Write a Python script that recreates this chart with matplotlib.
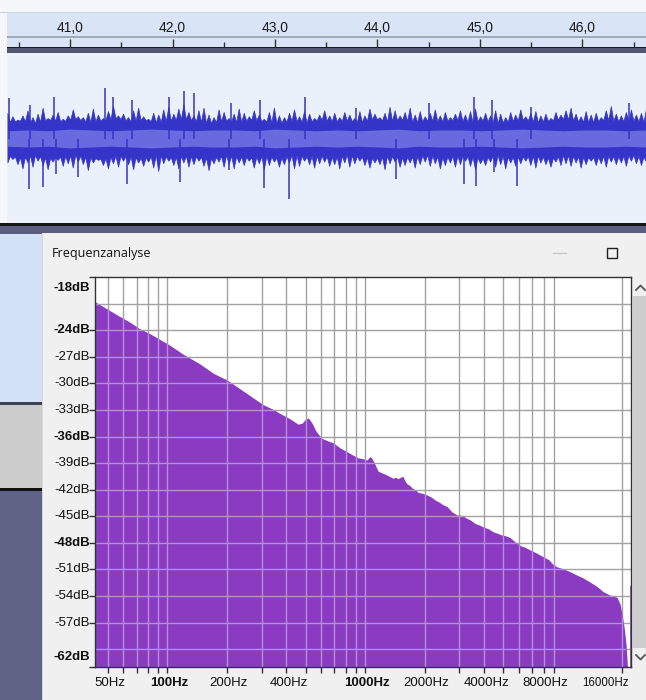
import numpy as np
import matplotlib
matplotlib.use('Agg')
import matplotlib.pyplot as plt
import matplotlib.transforms as mtransforms
from matplotlib.patches import Rectangle

# ---- data ----
# time ruler (seconds)
ruler_major = [41.0, 42.0, 43.0, 44.0, 45.0, 46.0]
ruler_labels = ['41,0', '42,0', '43,0', '44,0', '45,0', '46,0']
ruler_minor = [40.5, 41.5, 42.5, 43.5, 44.5, 45.5, 46.5]

# waveform peaks (normalised amplitude), evenly spread over the visible time span
wave_top = [0.30, 0.26, 0.22, 0.27, 0.33, 0.25, 0.29, 0.36, 0.24, 0.28, 0.31, 0.23, 0.27, 0.34, 0.26, 0.25,
            0.30, 0.35, 0.28, 0.24, 0.32, 0.38, 0.27, 0.29, 0.25, 0.33, 0.36, 0.26, 0.23, 0.30, 0.28, 0.34,
            0.37, 0.29, 0.35, 0.40, 0.31, 0.27, 0.33, 0.36, 0.28, 0.25, 0.34, 0.31, 0.24, 0.29, 0.35, 0.30,
            0.26, 0.33, 0.28, 0.23, 0.31, 0.36, 0.27, 0.25, 0.30, 0.34, 0.26, 0.32, 0.29, 0.24, 0.28, 0.33,
            0.27, 0.30, 0.25, 0.31, 0.28, 0.24, 0.32, 0.27, 0.35, 0.29, 0.25, 0.30, 0.37, 0.33, 0.27, 0.31,
            0.36, 0.28, 0.32, 0.26, 0.30, 0.34, 0.27, 0.31, 0.25, 0.29, 0.33, 0.28, 0.32, 0.35, 0.26, 0.30,
            0.27, 0.33, 0.29, 0.25, 0.31, 0.28, 0.34, 0.26, 0.30, 0.32, 0.27, 0.29, 0.24, 0.31, 0.28, 0.33,
            0.36, 0.29, 0.26, 0.32, 0.28, 0.30, 0.25, 0.33, 0.38, 0.29, 0.27, 0.31, 0.34, 0.28, 0.30, 0.35]
wave_bot = [-0.24, -0.30, -0.35, -0.28, -0.33, -0.26, -0.31, -0.36, -0.27, -0.25, -0.32, -0.29, -0.34, -0.27, -0.30, -0.37,
            -0.28, -0.25, -0.31, -0.35, -0.29, -0.33, -0.26, -0.30, -0.36, -0.28, -0.32, -0.27, -0.34, -0.38, -0.29, -0.26,
            -0.31, -0.35, -0.28, -0.33, -0.30, -0.26, -0.32, -0.37, -0.29, -0.27, -0.33, -0.30, -0.35, -0.28, -0.31, -0.26,
            -0.34, -0.29, -0.36, -0.31, -0.27, -0.33, -0.30, -0.28, -0.35, -0.32, -0.26, -0.30, -0.34, -0.29, -0.27, -0.32,
            -0.30, -0.35, -0.28, -0.33, -0.29, -0.26, -0.31, -0.34, -0.28, -0.30, -0.36, -0.29, -0.27, -0.33, -0.31, -0.28,
            -0.34, -0.30, -0.27, -0.32, -0.29, -0.35, -0.31, -0.28, -0.33, -0.30, -0.26, -0.32, -0.36, -0.29, -0.31, -0.27,
            -0.33, -0.30, -0.35, -0.28, -0.32, -0.29, -0.26, -0.31, -0.34, -0.28, -0.30, -0.33, -0.27, -0.31, -0.29, -0.32,
            -0.28, -0.34, -0.30, -0.26, -0.31, -0.29, -0.33, -0.27, -0.30, -0.28, -0.32, -0.26, -0.29, -0.31, -0.27, -0.28]
# troughs of the ragged outline between the peaks
body_top = [0.19, 0.21, 0.18, 0.22, 0.20, 0.23, 0.19, 0.21, 0.24, 0.20, 0.22, 0.19, 0.21, 0.23, 0.20, 0.18,
            0.21, 0.19, 0.22, 0.20, 0.18, 0.21, 0.19, 0.22, 0.20, 0.21, 0.19, 0.23, 0.20, 0.22, 0.19, 0.21,
            0.20, 0.22, 0.19, 0.21, 0.18, 0.20, 0.22, 0.19, 0.21, 0.23, 0.20, 0.19, 0.22, 0.20, 0.21, 0.19]
body_bot = [-0.20, -0.22, -0.19, -0.23, -0.21, -0.19, -0.22, -0.24, -0.20, -0.21, -0.23, -0.19, -0.22, -0.20, -0.21, -0.23,
            -0.19, -0.21, -0.22, -0.20, -0.23, -0.19, -0.21, -0.20, -0.22, -0.19, -0.21, -0.23, -0.20, -0.22, -0.21, -0.19,
            -0.22, -0.20, -0.21, -0.23, -0.19, -0.22, -0.21, -0.20, -0.23, -0.19, -0.21, -0.22, -0.20, -0.21, -0.19, -0.22]
wave_rms = [0.09, 0.10, 0.09, 0.11, 0.10, 0.09, 0.10, 0.11, 0.10, 0.09, 0.10, 0.10, 0.09, 0.11, 0.10, 0.09,
            0.10, 0.09, 0.10, 0.11, 0.09, 0.10, 0.10, 0.09, 0.10, 0.11, 0.10, 0.09, 0.10, 0.10, 0.09, 0.10]
spike_up_t = [40.40, 40.61, 40.84, 41.34, 41.42, 41.60, 41.97, 42.11, 42.21, 42.57, 42.85, 43.29,
              43.79, 44.50, 44.94, 45.12, 45.50, 46.45]
spike_up_v = [0.47, 0.39, 0.49, 0.59, 0.49, 0.45, 0.49, 0.56, 0.53, 0.41, 0.45, 0.49,
              0.36, 0.41, 0.49, 0.45, 0.37, 0.41]
spike_dn_t = [40.60, 40.74, 40.86, 41.08, 41.56, 42.07, 42.55, 42.89, 43.14, 44.18, 44.84, 44.96,
              45.14, 45.36]
spike_dn_v = [-0.59, -0.57, -0.41, -0.45, -0.53, -0.51, -0.37, -0.58, -0.71, -0.47, -0.53, -0.55,
              -0.39, -0.55]

# frequency analysis spectrum
spec_freq = [43.1, 47, 51.3, 57, 64.7, 72, 81.7, 91, 103, 120, 146, 172, 200, 247, 305, 340, 372,
             417, 458, 480, 497, 517, 540, 565, 604, 650, 689, 750, 808, 870, 922, 975, 1023,
             1045, 1060, 1085, 1110, 1163, 1220, 1277, 1330, 1385, 1430, 1468, 1510, 1556, 1590,
             1632, 1680, 1729, 1790, 1854, 1950, 2058, 2150, 2259, 2370, 2481, 2600, 2750, 2920,
             3100, 3250, 3398, 3600, 3800, 3954, 4200, 4450, 4654, 4900, 5150, 5414, 5750, 6100,
             6450, 6834, 7300, 7951, 8500, 8900, 9327, 10000, 10890, 11700, 12665, 13700, 14860,
             16000, 17347, 18100, 18825, 19490, 19950, 20420, 20900, 21300, 21500, 21780, 21790,
             22050]
spec_db = [-20.8, -21.3, -21.8, -22.4, -23.1, -23.8, -24.4, -25.0, -25.7, -26.7, -27.8, -28.9, -29.6,
           -31.0, -32.4, -32.9, -33.4, -34.0, -34.6, -34.5, -34.1, -33.9, -34.5, -35.4, -36.2, -36.5,
           -36.7, -37.3, -37.7, -38.1, -38.4, -38.5, -38.65, -38.4, -38.25, -38.5, -38.9, -39.9, -40.1,
           -40.3, -40.5, -40.7, -40.6, -40.75, -40.6, -40.5, -41.0, -41.35, -41.5, -41.8, -42.0, -42.3,
           -42.4, -42.6, -42.8, -43.15, -43.4, -43.7, -43.9, -44.5, -44.85, -44.9, -45.2, -45.4, -45.8,
           -46.0, -46.2, -46.4, -46.75, -46.9, -47.1, -47.2, -47.4, -47.9, -48.3, -48.5, -48.8, -49.1,
           -49.55, -49.9, -50.4, -50.7, -50.9, -51.25, -51.6, -51.95, -52.4, -52.9, -53.5, -53.9, -54.0,
           -54.15, -54.9, -56.1, -57.5, -59.5, -62.5, -64.0, -64.0, -52.8, -52.8]

db_ticks = [-18, -24, -27, -30, -33, -36, -39, -42, -45, -48, -51, -54, -57, -62]
db_bold = [-18, -24, -36, -48, -62]
db_grid = [-21, -24, -27, -30, -33, -36, -39, -42, -45, -48, -51, -54, -57, -60]
hz_ticks = [50, 100, 200, 400, 1000, 2000, 4000, 8000, 16000]
hz_bold = [100, 1000]
hz_grid = [50, 60, 70, 80, 90, 100, 200, 300, 400, 500, 600, 700, 800, 900,
           1000, 2000, 3000, 4000, 5000, 6000, 7000, 8000, 9000, 20000]

# ---- layout helpers (pixel boxes, y measured from the top) ----
W, H = 646, 700
T0, T1 = 40.389, 46.62
WAVE = '#3434c8'


def box(x0, y0, x1, y1):
    return [x0 / W, 1 - y1 / H, (x1 - x0) / W, (y1 - y0) / H]


def rect(ax, x0, y0, x1, y1, color, **kw):
    ax.add_patch(Rectangle((x0, y0), x1 - x0, y1 - y0, facecolor=color, edgecolor='none', **kw))


fig = plt.figure(figsize=(W / 100, H / 100), dpi=100)
fig.patch.set_facecolor('#f5f7fa')

# background / window chrome
bg = fig.add_axes([0, 0, 1, 1])
bg.set_xlim(0, W)
bg.set_ylim(H, 0)
bg.set_axis_off()
rect(bg, 0, 12, W, 13, '#cdd4de')
rect(bg, 7, 13, W, 47, '#d9e5f7')
rect(bg, 7, 36, W, 37.5, '#a3aab8')
rect(bg, 7, 46.5, W, 53, '#515770')
rect(bg, 7, 46.5, W, 48, '#1c1c24')
rect(bg, 7, 53, W, 224, '#ebf1fb')
rect(bg, 0, 223, W, 225.5, '#15151c')
rect(bg, 0, 225.5, W, 234, '#5a5f7d')
rect(bg, 0, 234, 42, 402, '#d3e1f7')
rect(bg, 0, 402, 42, 405, '#3d4259')
rect(bg, 0, 405, 42, 488, '#cbcbcb')
rect(bg, 0, 488, 42, 491, '#111111')
rect(bg, 0, 491, 42, H, '#5f6486')
rect(bg, 42, 233, W, H, '#f0f0f0')
rect(bg, 42, 233, 43, H, '#d8d8d8')
# scrollbar
rect(bg, 632, 277, W, 667, '#f0f0f0')
rect(bg, 633, 296, W, 648, '#cdcdcd')
bg.plot([636, 640.5, 645], [290, 285.5, 290], color='#555555', lw=1.3)
bg.plot([636, 640.5, 645], [655, 659.5, 655], color='#555555', lw=1.3)
# dialog title bar
bg.text(52, 253, 'Frequenzanalyse', fontsize=9, family='Open Sans', color='#111111',
        ha='left', va='center')
bg.plot([553, 566], [253, 253], color='#c8c8c8', lw=1)
bg.add_patch(Rectangle((607, 248), 10, 10, facecolor='none', edgecolor='#222222', lw=1))

# time ruler
ru = fig.add_axes(box(7.4, 13, W, 46.5))
ru.set_xlim(T0, T1)
ru.set_ylim(46.5, 13)
ru.set_axis_off()
ru.vlines(ruler_major, 39, 46.5, color='#333333', lw=1)
ru.vlines(ruler_minor, 42, 46.5, color='#333333', lw=1)
for t, lab in zip(ruler_major, ruler_labels):
    ru.text(t, 28.5, lab, ha='center', va='center', fontsize=10, family='Liberation Sans',
            color='#1a1a1a')

# waveform: ragged outline alternating peaks and troughs
wv = fig.add_axes(box(7.4, 53, W, 224))
wv.set_xlim(T0, T1)
wv.set_ylim(-1, 1)
wv.set_axis_off()
n = len(wave_top)
t_peak = np.linspace(T0, T1, n)
t_trough = (t_peak[:-1] + t_peak[1:]) / 2
t_body = np.linspace(T0, T1, len(body_top))
t_all = np.empty(2 * n - 1)
t_all[0::2] = t_peak
t_all[1::2] = t_trough
upper = np.empty(2 * n - 1)
upper[0::2] = wave_top
upper[1::2] = np.interp(t_trough, t_body, body_top)
lower = np.empty(2 * n - 1)
lower[0::2] = np.roll(wave_bot, 1)
lower[1::2] = np.interp(t_trough, t_body, body_bot)
wv.fill_between(t_all, lower, upper, color=WAVE, lw=0.5, edgecolor=WAVE)
wv.vlines(spike_up_t, 0, spike_up_v, color=WAVE, lw=1.1)
wv.vlines(spike_dn_t, spike_dn_v, 0, color=WAVE, lw=1.1)
t_rms = np.linspace(T0, T1, len(wave_rms))
rms = np.array(wave_rms)
wv.fill_between(t_rms, -rms, rms, color='#6a6ae0', lw=0)

# spectrum plot
ax = fig.add_axes(box(95, 277, 630.7, 667))
ax.set_facecolor('white')
ax.set_xscale('log')
ax.set_xlim(43.07, 22050)
ax.set_ylim(-62, -18)
for f in hz_grid:
    ax.axvline(f, color='#a2a2a2', lw=1, zorder=1)
for d in db_grid:
    ax.axhline(d, color='#a2a2a2', lw=1, zorder=1)
fill = ax.fill_between(spec_freq, spec_db, -80, color='#8a3bc2', lw=0, zorder=2)
clip = fill.get_paths()[0]
for f in hz_grid:
    ln = ax.axvline(f, color='#b58fd8', lw=1, zorder=3)
    ln.set_clip_path(clip, ax.transData)
for d in db_grid:
    ln = ax.axhline(d, color='#b58fd8', lw=1, zorder=3)
    ln.set_clip_path(clip, ax.transData)
for s in ax.spines.values():
    s.set_color('#333333')
    s.set_linewidth(1)
    s.set_zorder(5)

ax.set_yticks(db_ticks)
ax.set_yticklabels([])
ax.tick_params(axis='y', direction='out', length=4, width=1, color='#333333')
ax.set_xticks(hz_grid)
ax.set_xticklabels([])
ax.xaxis.set_minor_locator(matplotlib.ticker.NullLocator())
ax.tick_params(axis='x', direction='out', length=4, width=1, color='#333333')

ytrans = mtransforms.blended_transform_factory(ax.transAxes, ax.transData)
for d in db_ticks:
    dy = 0
    if d == db_ticks[0]:
        dy = -11
    elif d == db_ticks[-1]:
        dy = 10
    tr = mtransforms.offset_copy(ytrans, fig=fig, x=-5, y=dy, units='dots')
    ax.text(0, d, f'{d}dB', transform=tr, ha='right', va='center', fontsize=9.5,
            family='Liberation Sans', color='#111111',
            fontweight='bold' if d in db_bold else 'normal')

xtrans = mtransforms.blended_transform_factory(ax.transData, ax.transAxes)
for f in hz_ticks:
    tr = mtransforms.offset_copy(xtrans, fig=fig, x=2, y=-16, units='dots')
    ax.text(f, 0, f'{f}Hz', transform=tr, ha='center', va='center',
            fontsize=8.3 if f >= 10000 else 9.5, family='Liberation Sans', color='#111111',
            fontweight='bold' if f in hz_bold else 'normal')

fig.savefig('out.png', dpi=100)
